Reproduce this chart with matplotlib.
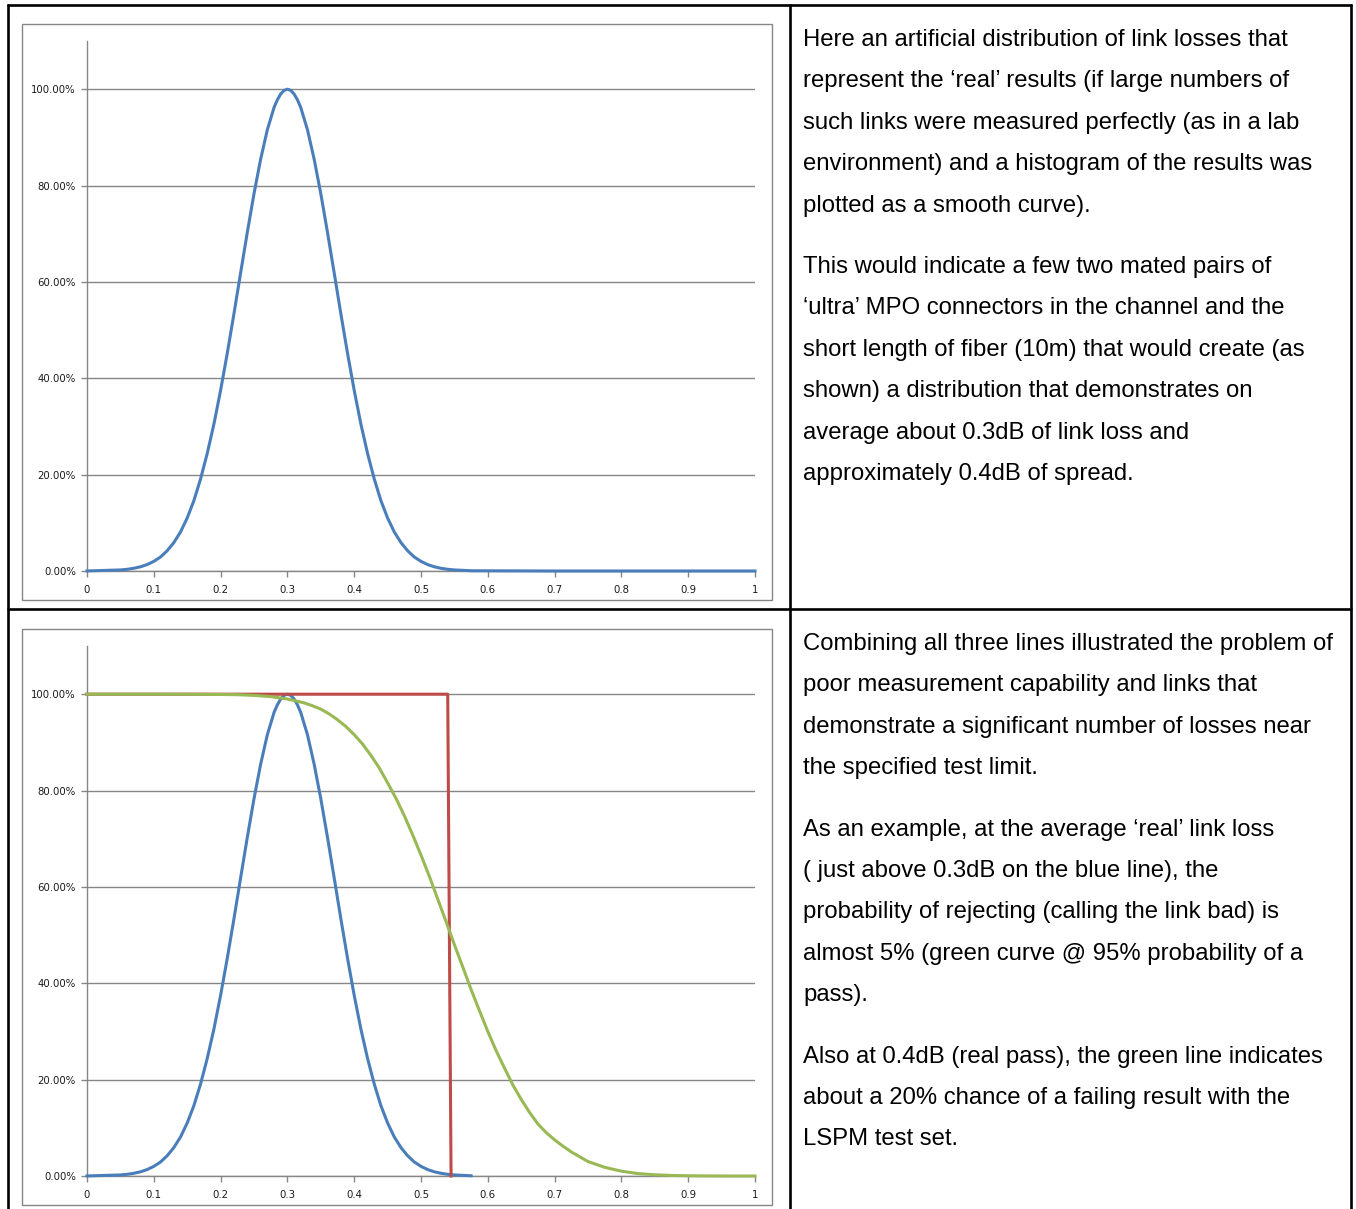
import matplotlib
matplotlib.use("Agg")
import matplotlib.pyplot as plt
from matplotlib.patches import Rectangle
import numpy as np

# --- data ---
# blue: 'real' link loss distribution (normalised to peak = 100%)
blue_x = [0.00, 0.05, 0.06, 0.07, 0.08, 0.09, 0.10, 0.11, 0.12, 0.13, 0.14, 0.15, 0.16, 0.17,
          0.18, 0.19, 0.20, 0.21, 0.22, 0.23, 0.24, 0.25, 0.26, 0.27, 0.28, 0.285, 0.29,
          0.295, 0.30, 0.305, 0.31, 0.315, 0.32, 0.33, 0.34, 0.35, 0.36, 0.37, 0.38, 0.39,
          0.40, 0.41, 0.42, 0.43, 0.44, 0.45, 0.46, 0.47, 0.48, 0.49, 0.50, 0.51, 0.52,
          0.53, 0.54, 0.55, 0.575, 0.70, 0.80, 0.90, 1.00]
blue_y = [0.0001, 0.0022, 0.0035, 0.0056, 0.0087, 0.0133, 0.020, 0.029, 0.042, 0.059, 0.081,
          0.110, 0.146, 0.191, 0.244, 0.305, 0.375, 0.452, 0.534, 0.619, 0.703, 0.783, 0.855,
          0.916, 0.962, 0.978, 0.990, 0.9975, 1.000, 0.9975, 0.990, 0.978, 0.962, 0.916,
          0.855, 0.783, 0.703, 0.619, 0.534, 0.452, 0.375, 0.305, 0.244, 0.191, 0.146, 0.110,
          0.081, 0.059, 0.042, 0.029, 0.020, 0.0133, 0.0087, 0.0056, 0.0035, 0.0022, 0.0005,
          0.0, 0.0, 0.0, 0.0]
blue_end_2 = 0.575  # blue stops here in the lower chart

# red: test limit (pass / fail step)
red_x = [0.0, 0.540, 0.545]
red_y = [1.0, 1.0, 0.0]

# green: probability of a measured pass
green_x = [0.00, 0.05, 0.10, 0.15, 0.20, 0.225, 0.25, 0.275, 0.30, 0.325, 0.3375, 0.35,
           0.3625, 0.375, 0.3875, 0.40, 0.4125, 0.425, 0.4375, 0.45, 0.4625, 0.475, 0.4875,
           0.50, 0.5125, 0.525, 0.5375, 0.55, 0.5625, 0.575, 0.5875, 0.60, 0.6125, 0.625,
           0.6375, 0.65, 0.6625, 0.675, 0.6875, 0.70, 0.7125, 0.725, 0.7375, 0.75, 0.7625,
           0.775, 0.7875, 0.80, 0.825, 0.85, 0.875, 0.90, 0.95, 1.00]
green_y = [1.000, 1.000, 1.000, 0.9999, 0.9994, 0.9989, 0.9975, 0.995, 0.990, 0.982, 0.976,
           0.969, 0.959, 0.947, 0.933, 0.916, 0.8965, 0.873, 0.847, 0.816, 0.784, 0.748, 0.708,
           0.666, 0.622, 0.575, 0.528, 0.480, 0.434, 0.387, 0.343, 0.300, 0.260, 0.224,
           0.189, 0.159, 0.132, 0.108, 0.090, 0.075, 0.062, 0.050, 0.040, 0.030, 0.024,
           0.018, 0.014, 0.010, 0.005, 0.0025, 0.0012, 0.0005, 0.0, 0.0]

x_ticks = [0, 0.1, 0.2, 0.3, 0.4, 0.5, 0.6, 0.7, 0.8, 0.9, 1]
x_tick_labels = ["0", "0.1", "0.2", "0.3", "0.4", "0.5", "0.6", "0.7", "0.8", "0.9", "1"]
y_ticks = [0, 0.2, 0.4, 0.6, 0.8, 1.0]
y_tick_labels = ["0.00%", "20.00%", "40.00%", "60.00%", "80.00%", "100.00%"]

text_top = [
    ["Here an artificial distribution of link losses that",
     "represent the \u2018real\u2019 results (if large numbers of",
     "such links were measured perfectly (as in a lab",
     "environment) and a histogram of the results was",
     "plotted as a smooth curve)."],
    ["This would indicate a few two mated pairs of",
     "\u2018ultra\u2019 MPO connectors in the channel and the",
     "short length of fiber (10m) that would create (as",
     "shown) a distribution that demonstrates on",
     "average about 0.3dB of link loss and",
     "approximately 0.4dB of spread."],
]
text_bottom = [
    ["Combining all three lines illustrated the problem of",
     "poor measurement capability and links that",
     "demonstrate a significant number of losses near",
     "the specified test limit."],
    ["As an example, at the average \u2018real\u2019 link loss",
     "( just above 0.3dB on the blue line), the",
     "probability of rejecting (calling the link bad) is",
     "almost 5% (green curve @ 95% probability of a",
     "pass)."],
    ["Also at 0.4dB (real pass), the green line indicates",
     "about a 20% chance of a failing result with the",
     "LSPM test set."],
]

BLUE = "#4a7ebb"
RED = "#be4b48"
GREEN = "#98b954"
GRID = "#868686"

W, H = 1356, 1209
fig = plt.figure(figsize=(W / 100, H / 100), dpi=100)
fig.patch.set_facecolor("white")

# background layer in pixel coordinates: table borders, chart frames, text
bg = fig.add_axes([0, 0, 1, 1])
bg.set_xlim(0, W)
bg.set_ylim(H, 0)
bg.axis("off")

for x in (7.5, 789.5, 1350.5):
    bg.plot([x, x], [4, H], color="black", lw=1.9, solid_capstyle="butt")
for y in (5, 609):
    bg.plot([6.5, 1351.5], [y, y], color="black", lw=1.9, solid_capstyle="butt")

for top in (24, 629):
    bg.add_patch(Rectangle((22, top), 750, 576, fill=False, edgecolor=GRID, lw=1.0))


def write_block(paragraphs, y0):
    y = y0
    for para in paragraphs:
        for line in para:
            bg.text(803, y, line, fontsize=17.2, family="Liberation Sans",
                    va="center", ha="left", color="black")
            y += 41.4
        y += 20


write_block(text_top, 40)
write_block(text_bottom, 644)


def make_chart(top_px, bottom_px, with_limits):
    left, right = 87, 755
    ax = fig.add_axes([left / W, 1 - bottom_px / H, (right - left) / W, (bottom_px - top_px) / H])
    ax.set_xlim(0, 1)
    ax.set_ylim(0, 1.1)
    ax.patch.set_alpha(0)
    for s in ("top", "right"):
        ax.spines[s].set_visible(False)
    for s in ("left", "bottom"):
        ax.spines[s].set_color(GRID)
        ax.spines[s].set_linewidth(1.0)
    ax.set_xticks(x_ticks)
    ax.set_xticklabels(x_tick_labels)
    ax.set_yticks(y_ticks)
    ax.set_yticklabels(y_tick_labels)
    ax.tick_params(axis="both", labelsize=7.3, colors=GRID, labelcolor="#1a1a1a",
                   length=4, width=1.0, direction="out")
    ax.tick_params(axis="x", pad=6)
    ax.tick_params(axis="y", pad=4)
    ax.yaxis.grid(True, color=GRID, lw=1.0)
    ax.set_axisbelow(True)

    bx = np.array(blue_x)
    by = np.array(blue_y)
    if with_limits:
        keep = bx <= blue_end_2
        bx, by = bx[keep], by[keep]
    ax.plot(bx, by, color=BLUE, lw=2.2, zorder=3, clip_on=False)
    if with_limits:
        ax.plot(red_x, red_y, color=RED, lw=2.2, zorder=4, clip_on=False)
        ax.plot(green_x, green_y, color=GREEN, lw=2.2, zorder=5, clip_on=False)
    return ax


make_chart(41, 571, False)
make_chart(646, 1176, True)

fig.savefig("out.png", dpi=100, facecolor="white")
